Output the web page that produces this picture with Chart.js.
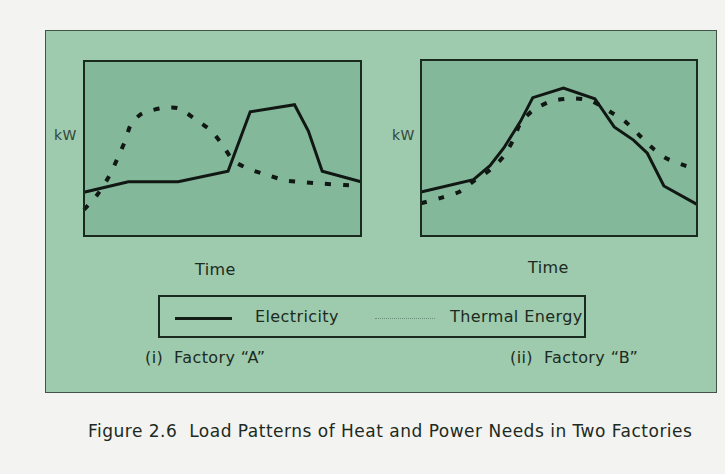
<!DOCTYPE html>
<html>
<head>
<meta charset="utf-8">
<script src="https://cdn.jsdelivr.net/npm/chart.js@4"></script>
<style>
  body { margin: 0; background: #f3f3f1; width: 725px; height: 474px; overflow: hidden;
         font-family: "DejaVu Sans", sans-serif; color: #1c2a21; }
  .panel { position: absolute; left: 45px; top: 30px; width: 670px; height: 361px;
           background: #9ecbae; border: 1px solid #44534a; }
  .txt { position: absolute; font-size: 16px; line-height: 20px; white-space: nowrap; letter-spacing: 0.4px; }
  canvas { position: absolute; }
  .legend { position: absolute; left: 158px; top: 295px; width: 424px; height: 39px;
            border: 2px solid #1a2a1f; }
  .solid { position: absolute; left: 175px; top: 317px; width: 57px; height: 3px; background: #141c16; }
  .dots { position: absolute; left: 375px; top: 318px; width: 60px; height: 0; border-top: 1px dotted #6f8e7c; }
</style>
</head>
<body>
<div class="panel"></div>
<canvas id="chartA" width="285" height="183" style="left:80px;top:57px"></canvas>
<canvas id="chartB" width="284" height="184" style="left:417px;top:56px"></canvas>

<div class="txt" style="left:54px;top:125px;font-size:14px;color:#33463a">kW</div>
<div class="txt" style="left:392px;top:125px;font-size:14px;color:#33463a">kW</div>
<div class="txt" style="left:195px;top:260px">Time</div>
<div class="txt" style="left:528px;top:258px">Time</div>

<div class="legend"></div>
<div class="solid"></div>
<div class="txt" style="left:255px;top:307px">Electricity</div>
<div class="dots"></div>
<div class="txt" style="left:450px;top:307px">Thermal Energy</div>

<div class="txt" style="left:145px;top:348px">(i)&nbsp;&nbsp;Factory “A”</div>
<div class="txt" style="left:510px;top:348px">(ii)&nbsp;&nbsp;Factory “B”</div>

<div class="txt" style="left:88px;top:421px;font-size:17px;letter-spacing:0.5px">Figure 2.6&nbsp; Load Patterns of Heat and Power Needs in Two Factories</div>

<script>
// Factory A (time in % of day, load in % of axis height)
const elecATime = [0, 16, 34, 52, 60, 76, 81, 86, 100];
const elecALoad = [25, 31, 31, 37, 71, 75, 60, 37, 31];
const heatATime = [0, 5, 9, 12, 15, 17, 21, 28, 34, 40, 46, 50, 54, 60, 67, 73, 80, 86, 94, 100];
const heatALoad = [15, 24, 34, 44, 55, 64, 70, 73, 73, 67, 60, 52, 43, 38, 34.5, 31.6, 30.7, 29.9, 29.1, 28.6];

// Factory B
const elecBTime = [0, 19, 25, 30, 36, 40.5, 51.6, 63, 70, 77, 82, 88, 100];
const elecBLoad = [25, 32, 40, 50, 65, 78.6, 84, 78, 62, 54.5, 47, 28.4, 18];
const heatBTime = [0, 7.5, 14, 19.6, 25, 29.8, 33.4, 36, 40.7, 47.4, 55.2, 61.8, 68.5, 74, 79, 84, 89, 95.7, 98];
const heatBLoad = [18.6, 21.8, 25.2, 31.8, 37.5, 45, 54.5, 64, 71.6, 76.7, 78.2, 76.7, 70.6, 65, 57.4, 49.8, 44, 40, 39];

const toPoints = (xs, ys) => xs.map((x, i) => ({ x: x, y: ys[i] }));

const PlotBoxPlugin = {
	id: 'plotBox',
	beforeDatasetsDraw: (chart) => {
		const { ctx, chartArea: a } = chart;
		ctx.save();
		ctx.fillStyle = '#83b89b';
		ctx.fillRect(a.left, a.top, a.right - a.left, a.bottom - a.top);
		ctx.restore();
	},
	afterDatasetsDraw: (chart) => {
		const { ctx, chartArea: a } = chart;
		ctx.save();
		ctx.strokeStyle = '#1a2a1f';
		ctx.lineWidth = 2;
		ctx.strokeRect(a.left, a.top, a.right - a.left, a.bottom - a.top);
		ctx.restore();
	}
}

const makeChart = (id, elecT, elecL, heatT, heatL) => {
	const ctx = document.getElementById(id).getContext('2d');
	return new Chart(ctx, {
		type: 'line',
		data: {
			datasets: [
				{
					label: 'Electricity',
					data: toPoints(elecT, elecL),
					borderColor: '#111813',
					borderWidth: 3,
					pointRadius: 0,
					tension: 0,
					clip: false
				},
				{
					label: 'Thermal Energy',
					data: toPoints(heatT, heatL),
					borderColor: '#111813',
					borderWidth: 4,
					borderDash: [6, 12],
					pointRadius: 0,
					tension: 0.25,
					clip: false
				}
			]
		},
		options: {
			responsive: false,
			animation: false,
			layout: { padding: 4 },
			scales: {
				x: { type: 'linear', min: 0, max: 100, display: false },
				y: { type: 'linear', min: 0, max: 100, display: false }
			},
			plugins: {
				legend: { display: false },
				tooltip: { enabled: false },
				title: { display: false }
			}
		},
		plugins: [PlotBoxPlugin]
	});
}

makeChart('chartA', elecATime, elecALoad, heatATime, heatALoad);
makeChart('chartB', elecBTime, elecBLoad, heatBTime, heatBLoad);
</script>
</body>
</html>
